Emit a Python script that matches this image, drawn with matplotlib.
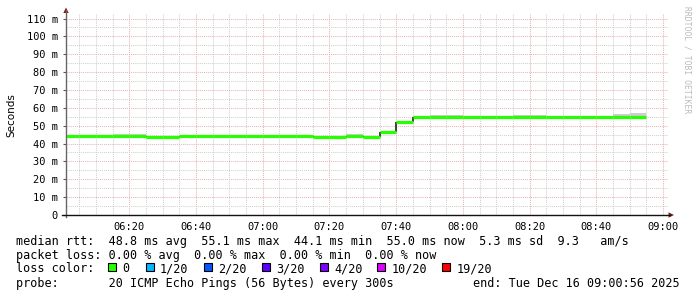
import matplotlib
matplotlib.use("Agg")
import matplotlib.pyplot as plt
import numpy as np
from matplotlib.ticker import FixedLocator, MultipleLocator
from matplotlib.patches import Polygon, Rectangle
from matplotlib.lines import Line2D

# ---------------- data ----------------
# 5-minute intervals, minutes after 06:00 (interval starts)
interval_start = [0, 5, 10, 15, 20, 25, 30, 35, 40, 45, 50, 55, 60, 65, 70, 75, 80,
                  85, 90, 95, 100, 105, 110, 115, 120, 125, 130, 135, 140, 145, 150,
                  155, 160, 165, 170]
interval_end = 175
median_ms = [44.4, 44.4, 44.4, 44.4, 44.4, 43.9, 43.9, 44.4, 44.4, 44.4, 44.4, 44.4,
             44.4, 44.4, 44.4, 43.9, 43.9, 44.4, 43.9, 46.2, 51.8, 55.0, 55.0, 55.0,
             55.0, 55.0, 55.0, 55.0, 55.0, 55.0, 55.0, 55.0, 55.0, 55.0, 55.0]
smoke_lo = [43.9, 43.9, 43.9, 43.9, 43.9, 43.5, 43.5, 43.9, 43.9, 43.9, 43.9, 43.9,
            43.9, 43.9, 43.9, 43.5, 43.5, 43.9, 43.5, 45.8, 51.4, 54.6, 54.6, 54.6,
            54.6, 54.6, 54.6, 54.6, 54.6, 54.6, 54.6, 54.6, 54.6, 54.6, 54.6]
smoke_hi = [44.8, 44.8, 44.8, 45.4, 45.4, 44.3, 44.3, 44.8, 44.8, 44.8, 44.8, 44.8,
            44.8, 44.8, 44.8, 44.3, 44.3, 45.4, 44.3, 46.6, 52.2, 55.4, 55.8, 55.8,
            55.4, 55.4, 55.4, 55.8, 55.8, 55.4, 55.4, 55.4, 55.4, 56.4, 57.1]

x_tick_pos = [20, 40, 60, 80, 100, 120, 140, 160, 180]
x_tick_labels = ["06:20", "06:40", "07:00", "07:20", "07:40", "08:00", "08:20", "08:40", "09:00"]
y_tick_pos = [0, 10, 20, 30, 40, 50, 60, 70, 80, 90, 100, 110]
y_tick_labels = ["0", "10 m", "20 m", "30 m", "40 m", "50 m", "60 m", "70 m", "80 m",
                 "90 m", "100 m", "110 m"]

legend_rtt = "median rtt:  48.8 ms avg  55.1 ms max  44.1 ms min  55.0 ms now  5.3 ms sd  9.3   am/s"
legend_loss = "packet loss: 0.00 % avg  0.00 % max  0.00 % min  0.00 % now"
loss_labels = ["0", "1/20", "2/20", "3/20", "4/20", "10/20", "19/20"]
loss_colors = ["#26ff00", "#00b8ff", "#0059ff", "#5e00ff", "#7e00ff", "#dd00ff", "#ff0000"]
probe_text = "probe:       20 ICMP Echo Pings (56 Bytes) every 300s"
end_text = "end: Tue Dec 16 09:00:56 2025"

# ---------------- figure ----------------
W, H = 697, 297
fig = plt.figure(figsize=(W / 100, H / 100), dpi=100)
fig.patch.set_facecolor("white")

def fx(x):
    return x / W

def fy(y):
    return 1 - y / H

ax_l, ax_r, ax_t, ax_b = 65.7, 668.0, 14.0, 215.0
ax = fig.add_axes([fx(ax_l), fy(ax_b), (ax_r - ax_l) / W, (ax_b - ax_t) / H])
ppm = 3.336
x0 = 0.933
ax.set_xlim(x0, x0 + (ax_r - ax_l) / ppm)
ax.set_ylim(0, (ax_b - ax_t) / 1.786)

for s in ax.spines.values():
    s.set_visible(False)

mono = "DejaVu Sans Mono"
ax.xaxis.set_major_locator(FixedLocator(x_tick_pos))
ax.set_xticklabels(x_tick_labels, fontfamily=mono, fontsize=7.5)
ax.xaxis.set_minor_locator(MultipleLocator(5))
ax.yaxis.set_major_locator(FixedLocator(y_tick_pos))
ax.set_yticklabels(y_tick_labels, fontfamily=mono, fontsize=7.5)
ax.yaxis.set_minor_locator(MultipleLocator(5))
ax.tick_params(axis="x", which="both", length=0, pad=5)
ax.tick_params(axis="y", which="major", length=2, width=0.8, color="#555555", pad=3.5)
ax.tick_params(axis="y", which="minor", length=0)

ax.grid(which="minor", color="#d0d0d0", linestyle=(0, (1, 1)), linewidth=0.75)
ax.grid(which="major", color="#e8b4b4", linestyle=(0, (1, 1)), linewidth=0.75)
ax.set_axisbelow(True)

edges = list(interval_start) + [interval_end]
ax.stairs(smoke_hi, edges, baseline=smoke_lo, fill=True, color="#cdcdcd", lw=0, zorder=2)
# dark vertical connectors between consecutive median steps
ax.vlines(edges[1:-1], median_ms[:-1], median_ms[1:], color="#222222", lw=1.2, zorder=3)
ax.hlines(median_ms, edges[:-1], edges[1:], color=loss_colors[0], lw=2.3, zorder=4,
          capstyle="butt")

# axis lines with arrows (figure pixel coords)
fig.add_artist(Line2D([fx(66), fx(66)], [fy(217), fy(10)], color="#666666", lw=1.0))
fig.add_artist(Line2D([fx(62), fx(670)], [fy(215), fy(215)], color="#111111", lw=1.0))
fig.add_artist(Polygon([[fx(63.3), fy(13)], [fx(68.7), fy(13)], [fx(66), fy(7.5)]],
                       closed=True, color="#7a1f1f", lw=0))
fig.add_artist(Polygon([[fx(668.5), fy(212.3)], [fx(668.5), fy(217.7)], [fx(674), fy(215)]],
                       closed=True, color="#7a1f1f", lw=0))

fig.text(fx(11), fy(115), "Seconds", rotation=90, ha="center", va="center",
         fontsize=7.5, fontfamily="DejaVu Sans")
fig.text(fx(687), fy(60), "RRDTOOL / TOBI OETIKER", rotation=270, ha="center", va="center",
         fontsize=5.8, fontfamily=mono, color="#bbbbbb")

fs = 8.5
fig.text(fx(16), fy(241), legend_rtt, ha="left", va="center", fontsize=fs, fontfamily=mono)
fig.text(fx(16), fy(255.5), legend_loss, ha="left", va="center", fontsize=fs, fontfamily=mono)
fig.text(fx(16), fy(269), "loss color:", ha="left", va="center", fontsize=fs, fontfamily=mono)
sq_x = [108.3, 145.7, 204.0, 261.7, 320.0, 377.3, 442.3]
for sx, lab, col in zip(sq_x, loss_labels, loss_colors):
    fig.add_artist(Rectangle((fx(sx), fy(271)), 8.0 / W, 8.0 / H, facecolor=col,
                             edgecolor="black", lw=0.8))
    fig.text(fx(sx + 14.2), fy(269), lab, ha="left", va="center", fontsize=fs, fontfamily=mono)
fig.text(fx(16), fy(283.5), probe_text, ha="left", va="center", fontsize=fs, fontfamily=mono)
fig.text(fx(680), fy(283.5), end_text, ha="right", va="center", fontsize=fs, fontfamily=mono)

fig.savefig("out.png", dpi=100, facecolor="white")
